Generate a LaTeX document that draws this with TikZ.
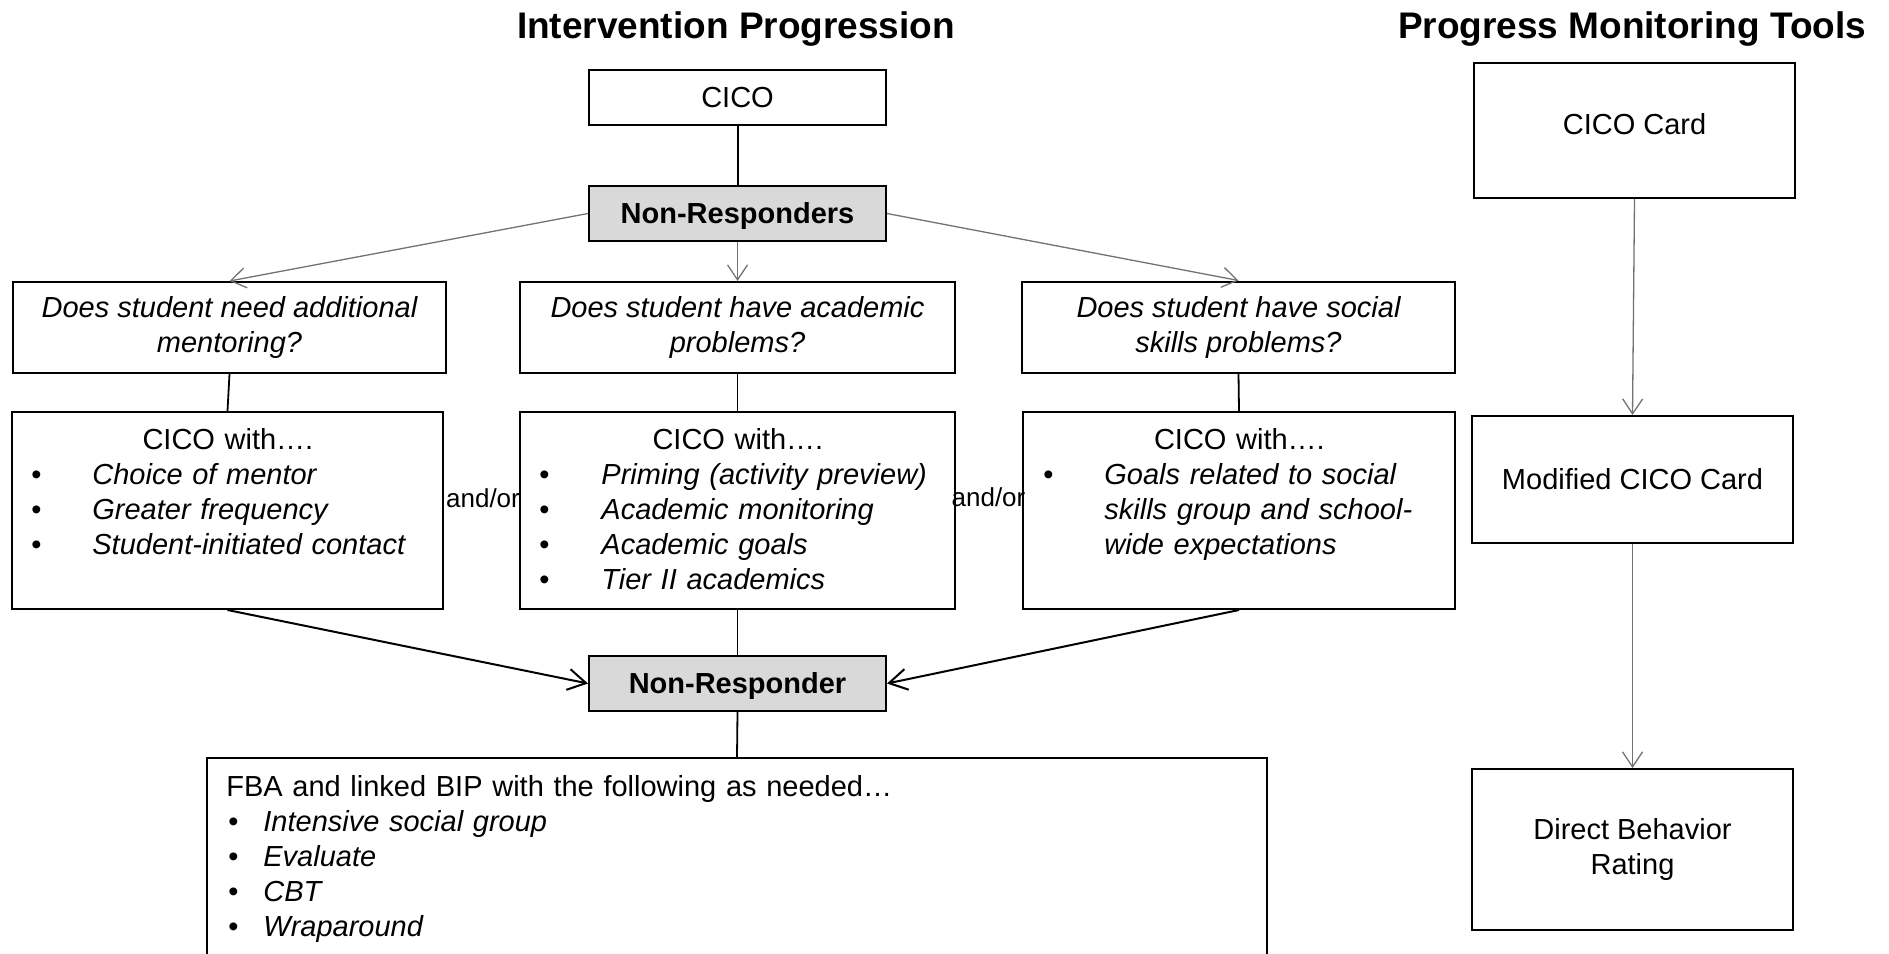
\documentclass[tikz,border=0pt]{standalone}
\usepackage{fontspec}
\setmainfont{Liberation Sans}
\usetikzlibrary{arrows.meta}
\definecolor{boxgray}{HTML}{D9D9D9}
\definecolor{linegray}{HTML}{727272}
% body text size and a bullet line with a fixed bullet column
\newcommand\diagbody{\fontsize{14.5}{17.5}\selectfont}
\newcommand\bul[2]{\makebox[#1][l]{•}\textit{#2}}
% lift a label inside its box without changing the box
\newcommand\lift[2]{\raisebox{#1}[\height][\depth]{#2}}
\begin{document}
\begin{tikzpicture}[x=0.5pt,y=-0.5pt,
  box/.style={draw=black, line width=1pt, inner sep=0pt, align=center, font=\diagbody},
  sz/.style 2 args={minimum width=#1*0.5pt, minimum height=#2*0.5pt},
  txt/.style={inner sep=0pt, align=left, font=\diagbody},
  heading/.style={inner sep=0pt, font=\fontsize{18.5}{22}\selectfont\bfseries},
  solid link/.style={draw=black, line width=0.9pt},
  gray arrow/.style={draw=linegray, line width=0.65pt, -{Straight Barb[length=7.5pt,width=10pt]}},
  dark arrow/.style={draw=black, line width=1pt, -{Straight Barb[length=9pt,width=10.5pt]}}]
\useasboundingbox (0,0) rectangle (1889,953);
\clip (0,0) rectangle (1889,953);

% headings
\node[heading, anchor=base] (hIP) at (736,38) {Intervention Progression};
\node[heading, anchor=base] (hPM) at (1632,38) {Progress Monitoring Tools};

% intervention progression
\node[box, sz={297}{55}] (cico) at (737.5,97.5) {CICO};
\node[box, sz={297}{55}, fill=boxgray, font=\diagbody\bfseries] (nrs) at (737.5,213.5) {\lift{-1pt}{Non-Responders}};

\node[box, sz={433}{91}, font=\diagbody\itshape] (q1) at (229.5,327.5) {Does student need additional\\mentoring?};
\node[box, sz={435}{91}, font=\diagbody\itshape] (q2) at (737.5,327.5) {Does student have academic\\problems?};
\node[box, sz={433}{91}, font=\diagbody\itshape] (q3) at (1238.5,327) {Does student have social\\skills problems?};

\node[box, sz={431}{197}] (c1) at (227.5,510.5) {};
\node[box, sz={435}{197}] (c2) at (737.5,510.5) {};
\node[box, sz={432}{197}] (c3) at (1239,510.5) {};

\node[txt, anchor=base west, text width=196.5pt] (c1t) at (31,449.5)
  {{\centering CICO with….\par}
   \bul{30.5pt}{Choice of mentor}\\
   \bul{30.5pt}{Greater frequency}\\
   \bul{30.5pt}{Student-initiated contact}};
\node[txt, anchor=base west, text width=198.5pt] (c2t) at (539,449.5)
  {{\centering CICO with….\par}
   \bul{31pt}{Priming (activity preview)}\\
   \bul{31pt}{Academic monitoring}\\
   \bul{31pt}{Academic goals}\\
   \bul{31pt}{Tier II academics}};
\node[txt, anchor=base west, text width=196pt] (c3t) at (1043,449.5)
  {{\centering CICO with….\par}
   \bul{30.5pt}{Goals related to social}\\
   \hspace*{30.5pt}\textit{skills group and school-}\\
   \hspace*{30.5pt}\textit{wide expectations}};

\node[inner sep=0pt, font=\fontsize{13}{15}\selectfont] (ao1) at (483,498) {and/or};
\node[inner sep=0pt, font=\fontsize{13}{15}\selectfont] (ao2) at (988.5,497) {and/or};

\node[box, sz={297}{55}, fill=boxgray, font=\diagbody\bfseries] (nr) at (737.5,683.5) {\lift{-1pt}{Non-Responder}};

\node[box, sz={1060}{242}] (fba) at (737,879) {};
\node[txt, anchor=base west, text width=500pt] (fbat) at (226,796.5)
  {FBA and linked BIP with the following as needed…\\
   \hspace*{1pt}\bul{17.5pt}{Intensive social group}\\
   \hspace*{1pt}\bul{17.5pt}{Evaluate}\\
   \hspace*{1pt}\bul{17.5pt}{CBT}\\
   \hspace*{1pt}\bul{17.5pt}{Wraparound}};

% progress monitoring tools
\node[box, sz={321}{135}] (card) at (1634.5,130.5) {\lift{3pt}{CICO Card}};
\node[box, sz={321}{127}] (mcard) at (1632.5,479.5) {Modified CICO Card};
\node[box, sz={321}{161}] (dbr) at (1632.5,849.5) {Direct Behavior\\Rating};

% connectors
\draw[solid link, line width=1pt] (cico) -- (nrs);
\draw[gray arrow] (nrs.west) -- (q1.north);
\draw[gray arrow] (nrs.south) -- (q2.north);
\draw[gray arrow] (nrs.east) -- (q3.north);
\draw[solid link] (q1.south) -- (c1.north);
\draw[solid link] (q2.south) -- (c2.north);
\draw[solid link] (q3.south) -- (c3.north);
\draw[dark arrow] (c1.south) -- (nr.west);
\draw[solid link] (c2.south) -- (nr.north);
\draw[dark arrow] (c3.south) -- (nr.east);
\draw[solid link] (nr.south) -- (fba.north);
\draw[gray arrow] (card.south) -- (mcard.north);
\draw[gray arrow] (mcard.south) -- (dbr.north);
\end{tikzpicture}
\end{document}
